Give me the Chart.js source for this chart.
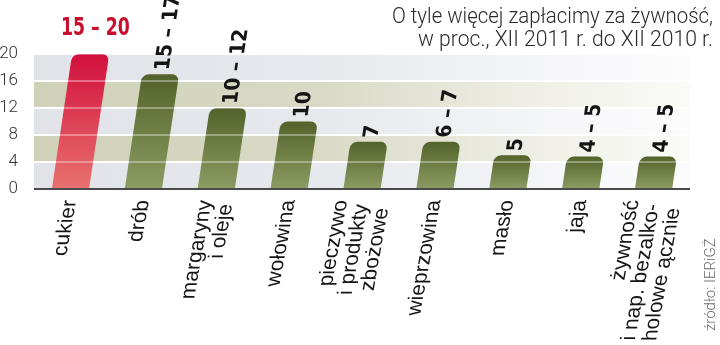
<!DOCTYPE html>
<html>
<head>
<meta charset="utf-8">
<script src="https://cdn.jsdelivr.net/npm/chart.js@4"></script>
<style>
  html, body { margin: 0; padding: 0; background: #fff; }
  #wrap { width: 720px; height: 345px; }
</style>
</head>
<body>
<div id="wrap"><canvas id="chart" width="720" height="345"></canvas></div>
<script>
/* =========================
   Data
========================= */
const categories = [
  ["cukier"],
  ["drób"],
  ["margaryny", "i oleje"],
  ["wołowina"],
  ["pieczywo", "i produkty", "zbożowe"],
  ["wieprzowina"],
  ["masło"],
  ["jaja"],
  ["żywność", "i nap. bezalko-", "holowe ącznie"],
];
const values = [20, 17, 12, 10, 7, 7, 5, 4.8, 4.8];
const valueLabels = ["15 – 20", "15 – 17", "10 – 12", "10", "7", "6 – 7", "5", "4 – 5", "4 – 5"];
const yTicks = [0, 4, 8, 12, 16, 20];
const titleLines = ["O tyle więcej zapłacimy za żywność,", "w proc., XII 2011 r. do XII 2010 r."];
const sourceText = "źródło: IERiGŻ";

const SKEW = 0.15;       // pochylenie słupków
const LABEL_SKEW = 0.18; // pochylenie podpisów osi X

/* =========================
   Helpers
========================= */
function skewAround(ctx, y0, k = SKEW) {
  // x' = x + k * (y0 - y)
  ctx.transform(1, 0, -k, 1, k * y0, 0);
}

function fadeGradient(ctx, left, right, rgb) {
  const g = ctx.createLinearGradient(left, 0, right, 0);
  g.addColorStop(0, `rgba(${rgb},1)`);
  g.addColorStop(0.45, `rgba(${rgb},0.8)`);
  g.addColorStop(0.8, `rgba(${rgb},0.3)`);
  g.addColorStop(1, `rgba(${rgb},0.1)`);
  return g;
}

/* background bands + white grid */
const bandsPlugin = {
  id: "bands",
  beforeDatasetsDraw(chart) {
    const { ctx, chartArea, scales: { y } } = chart;
    ctx.save();
    for (let i = 0; i < yTicks.length - 1; i++) {
      const yb = y.getPixelForValue(yTicks[i]);
      const yt = y.getPixelForValue(yTicks[i + 1]);
      const rgb = i % 2 === 1 ? "208,209,184" : "225,227,233";
      ctx.fillStyle = fadeGradient(ctx, chartArea.left, chartArea.right, rgb);
      ctx.fillRect(chartArea.left, yt, chartArea.right - chartArea.left, yb - yt);
    }
    ctx.strokeStyle = "#fff";
    ctx.lineWidth = 2;
    yTicks.slice(1).forEach(v => {
      const py = y.getPixelForValue(v);
      ctx.beginPath();
      ctx.moveTo(chartArea.left, py);
      ctx.lineTo(chartArea.right, py);
      ctx.stroke();
    });
    ctx.restore();
  },
};

/* skewed bars, value labels, axis line */
const barsPlugin = {
  id: "skewBars",
  afterDatasetsDraw(chart) {
    const { ctx, chartArea, scales: { y } } = chart;
    const meta = chart.getDatasetMeta(0);
    const base = y.getPixelForValue(0);

    meta.data.forEach((bar, i) => {
      const w = bar.width;
      const top = bar.y;
      ctx.save();
      skewAround(ctx, base);
      const g = ctx.createLinearGradient(0, top, 0, base);
      if (i === 0) {
        g.addColorStop(0, "#d20f3c");
        g.addColorStop(1, "#e9726f");
      } else {
        g.addColorStop(0, "#52622a");
        g.addColorStop(1, "#8d9c62");
      }
      ctx.fillStyle = g;
      ctx.beginPath();
      ctx.roundRect(bar.x - w / 2, top, w, base - top, [7, 7, 0, 0]);
      ctx.fill();
      ctx.restore();
    });

    // delikatne linie siatki na słupkach
    ctx.save();
    ctx.strokeStyle = "rgba(255,255,255,0.35)";
    ctx.lineWidth = 2;
    yTicks.slice(1).forEach(v => {
      const py = y.getPixelForValue(v);
      ctx.beginPath();
      ctx.moveTo(chartArea.left, py);
      ctx.lineTo(chartArea.right, py);
      ctx.stroke();
    });
    // oś X
    ctx.strokeStyle = "#4a4a4a";
    ctx.lineWidth = 2;
    ctx.beginPath();
    ctx.moveTo(chartArea.left, base);
    ctx.lineTo(chartArea.right, base);
    ctx.stroke();
    ctx.restore();

    // wartości nad słupkami (obrócone)
    meta.data.forEach((bar, i) => {
      if (i === 0) return;
      ctx.save();
      skewAround(ctx, base);
      ctx.translate(bar.x + 2, bar.y - 4);
      ctx.rotate(-Math.PI / 2);
      ctx.font = "bold 21px 'DejaVu Sans Condensed'";
      ctx.fillStyle = "#141414";
      ctx.textAlign = "left";
      ctx.textBaseline = "middle";
      ctx.fillText(valueLabels[i], 0, 0);
      ctx.restore();
    });

    // czerwony podpis cukru
    const b0 = meta.data[0];
    ctx.save();
    ctx.translate(b0.x + 25, 35);
    ctx.scale(0.77, 1);
    ctx.font = "bold 25px 'DejaVu Sans Condensed'";
    ctx.fillStyle = "#c8102e";
    ctx.textAlign = "center";
    ctx.textBaseline = "alphabetic";
    ctx.fillText(valueLabels[0], 0, 0);
    ctx.restore();
  },
};

/* category labels, title, source */
const textPlugin = {
  id: "texts",
  afterDraw(chart) {
    const { ctx, scales: { x } } = chart;
    const y0 = 200;
    const lh = 20.5;

    categories.forEach((lines, i) => {
      const cx = x.getPixelForValue(i);
      lines.forEach((line, j) => {
        const lx = cx + (j - (lines.length - 1) / 2) * lh;
        const ly = y0 + j * 4;
        ctx.save();
        skewAround(ctx, ly, LABEL_SKEW);
        ctx.translate(lx, ly);
        ctx.rotate(-Math.PI / 2);
        ctx.font = "21px 'Liberation Sans'";
        ctx.fillStyle = "#151515";
        ctx.textAlign = "right";
        ctx.textBaseline = "middle";
        ctx.fillText(line, 0, 0);
        ctx.restore();
      });
    });

    // tytuł
    const titleWidths = [321, 295];
    const titleBase = [23, 46];
    titleLines.forEach((t, i) => {
      ctx.save();
      ctx.font = "300 22px Roboto";
      const m = ctx.measureText(t).width;
      ctx.translate(713, titleBase[i]);
      ctx.scale(titleWidths[i] / m, 1);
      ctx.fillStyle = "#2a2a2a";
      ctx.textAlign = "right";
      ctx.textBaseline = "alphabetic";
      ctx.fillText(t, 0, 0);
      ctx.restore();
    });

    // źródło
    ctx.save();
    ctx.translate(711, 331);
    ctx.rotate(-Math.PI / 2);
    ctx.font = "300 15px Roboto";
    ctx.fillStyle = "#6a6a6a";
    ctx.textAlign = "left";
    ctx.textBaseline = "middle";
    ctx.fillText(sourceText, 0, 0);
    ctx.restore();
  },
};

/* =========================
   Chart
========================= */
new Chart(document.getElementById("chart"), {
  type: "bar",
  data: {
    labels: categories.map(c => c.join(" ")),
    datasets: [{
      data: values,
      backgroundColor: "rgba(0,0,0,0)",
      borderWidth: 0,
      barPercentage: 0.51,
      categoryPercentage: 1,
    }],
  },
  options: {
    responsive: false,
    animation: false,
    devicePixelRatio: 1,
    layout: { padding: { top: 54, right: 30, left: 0, bottom: 0 } },
    plugins: { legend: { display: false }, tooltip: { enabled: false } },
    scales: {
      x: {
        grid: { display: false },
        border: { display: false },
        ticks: { display: false },
        afterFit: s => { s.height = 156; },
      },
      y: {
        min: 0,
        max: 20,
        afterBuildTicks: s => { s.ticks = yTicks.map(v => ({ value: v })); },
        grid: { display: false },
        border: { display: false },
        ticks: {
          padding: 8,
          color: "#333",
          font: { family: "Roboto", weight: "300", size: 17 },
        },
        afterFit: s => { s.width = 34; },
      },
    },
  },
  plugins: [bandsPlugin, barsPlugin, textPlugin],
});
</script>
</body>
</html>
